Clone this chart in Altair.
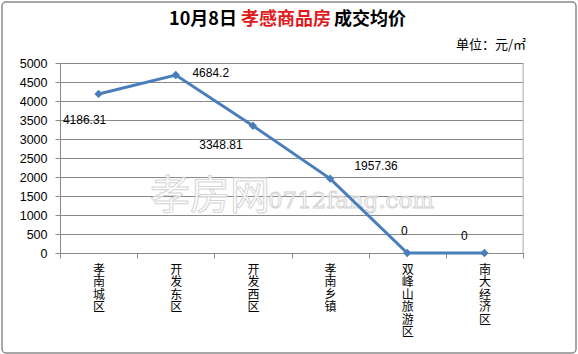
import altair as alt
import pandas as pd

categories = ["孝南城区", "开发东区", "开发西区", "孝南乡镇", "双峰山旅游区", "南大经济区"]
prices = [4186.31, 4684.2, 3348.81, 1957.36, 0, 0]
labels = ["4186.31", "4684.2", "3348.81", "1957.36", "0", "0"]

df = pd.DataFrame({"cat": categories, "price": prices, "label": labels})

FONT = "Noto Sans CJK SC"
W, H = 463, 190

xenc = alt.X("cat:N", sort=categories, title=None,
             scale=alt.Scale(paddingInner=0, paddingOuter=0),
             axis=alt.Axis(labelAngle=0, labelExpr="split(datum.label, '')",
                           labelLineHeight=12.5, labelFontSize=12, labelFont=FONT,
                           labelColor="#000", labelBaseline="top", labelPadding=6,
                           tickBand="extent", tickSize=5, tickColor="#888",
                           domainColor="#888", grid=False))
yenc = alt.Y("price:Q", title=None,
             scale=alt.Scale(domain=[0, 5000], nice=False),
             axis=alt.Axis(values=list(range(0, 5001, 500)), format="d", labelFontSize=12.5,
                           labelFont="Liberation Sans", labelColor="#000",
                           tickSize=5, tickColor="#888", domainColor="#888",
                           gridColor="#888", gridWidth=1, labelPadding=8))

base = alt.Chart(df).encode(x=xenc, y=yenc)

line = base.mark_line(color="#4A7EBB", strokeWidth=3)
pts = base.mark_point(shape="diamond", filled=True, size=70, color="#4A7EBB", opacity=1)

offsets = {
    "孝南城区": (-14, 26),
    "开发东区": (35, -2),
    "开发西区": (-32, 19),
    "孝南乡镇": (46, -13),
    "双峰山旅游区": (-3, -22),
    "南大经济区": (-20, -17),
}
text_layers = []
for c, (dx, dy) in offsets.items():
    text_layers.append(
        base.transform_filter(alt.datum.cat == c)
        .mark_text(dx=dx, dy=dy, fontSize=12, font="Liberation Sans", color="#000")
        .encode(text="label:N")
    )

ann = pd.DataFrame({"k": [0]})
def txt(s, x, y, **kw):
    return alt.Chart(ann).mark_text(text=s, **kw).encode(x=alt.value(x), y=alt.value(y))

watermark1 = txt("孝房网", 150, 134, fontSize=40, font=FONT, fontWeight="normal",
                 fill="#ffffff", fillOpacity=0.7, stroke="#d4d4d4", strokeWidth=1)
watermark2 = txt("0712fang.com", 291, 138, fontSize=23, font="DejaVu Serif", fontWeight="normal",
                 fill="#ffffff", fillOpacity=0.7, stroke="#d4d4d4", strokeWidth=1)

t1 = txt("10月8日", 143, -43, fontSize=18, font=FONT, fontWeight="bold", color="#000")
t2 = txt("孝感商品房", 226, -43, fontSize=18, font=FONT, fontWeight="bold", color="#E31A1C")
t3 = txt("成交均价", 310, -43, fontSize=18, font=FONT, fontWeight="bold", color="#000")
unit = txt("单位：元/㎡", 431, -18, fontSize=13, font=FONT, color="#000")

frame = alt.Chart(ann).mark_rect(fill=None, stroke="#8a8a8a", strokeWidth=1.5, cornerRadius=4).encode(
    x=alt.value(-58), x2=alt.value(516), y=alt.value(-61), y2=alt.value(290))
right_edge = alt.Chart(ann).mark_rule(color="#bbbbbb").encode(
    x=alt.value(W), y=alt.value(0), y2=alt.value(H))

chart = alt.layer(watermark1, watermark2, right_edge, line, pts, *text_layers,
                  t1, t2, t3, unit, frame).properties(
    width=W, height=H,
    autosize=alt.AutoSizeParams(type="none"),
    padding={"left": 60, "top": 63, "right": 55, "bottom": 101},
).configure_view(stroke=None).configure(background="#ffffff")

chart.save("out.html", embed_options={"renderer": "svg", "actions": False})
